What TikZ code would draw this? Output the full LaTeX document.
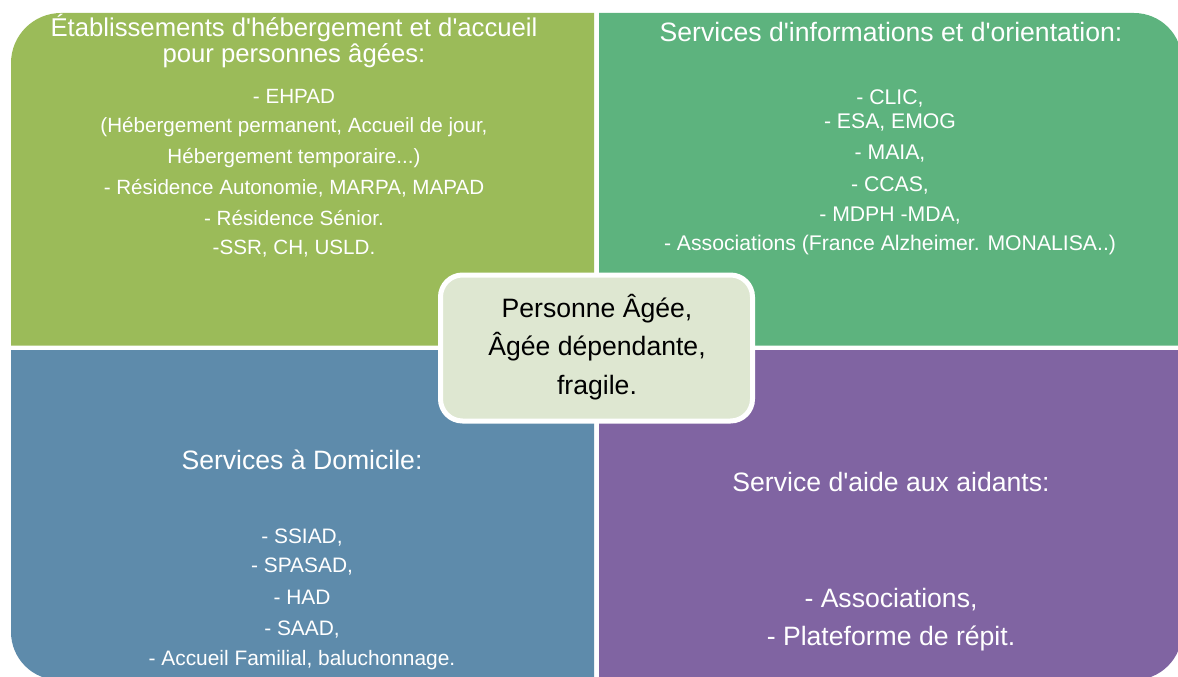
\documentclass[tikz,border=0pt]{standalone}
\usepackage{fontspec}
\setmainfont{Liberation Sans}[Ligatures=TeXOff]
\definecolor{cTL}{HTML}{9BBB59}
\definecolor{cTR}{HTML}{5DB37E}
\definecolor{cBL}{HTML}{5E8BAB}
\definecolor{cBR}{HTML}{8064A2}
\definecolor{cC}{HTML}{DEE7D1}
\newcommand\fsz[1]{\fontsize{#1}{#1}\selectfont}
\begin{document}
\begin{tikzpicture}[x=1pt,y=-1pt,
  ln/.style={anchor=base, text=white, inner sep=0pt},
  ttl/.style={ln, font=\fsz{26.6}},
  bodyA/.style={ln, font=\fsz{20.6}},
  bodyB/.style={ln, font=\fsz{21.2}},
  bodyC/.style={ln, font=\fsz{20.9}},
  bodyD/.style={ln, font=\fsz{26.6}},
  coretext/.style={anchor=base, text=black, inner sep=0pt, font=\fsz{26.6}},
  corebox/.style={draw=white, line width=5pt, fill=cC, rounded corners=22pt,
    minimum width=312pt, minimum height=146pt, inner sep=0pt}]
\useasboundingbox (0,0) rectangle (1178,677);
\clip (0,0) rectangle (1178,677);
% quadrants
\fill[cTL] (11,345.5) [rounded corners=50pt] -- (11,13) [sharp corners] -- (594,13) -- (594,345.5) -- cycle;
\fill[cTR] (599,345.5) -- (599,13) [rounded corners=48pt] -- (1182,13) [sharp corners] -- (1182,345.5) -- cycle;
\fill[cBL] (594,350) -- (11,350) [rounded corners=48pt] -- (11,680) [sharp corners] -- (594,680) -- cycle;
\fill[cBR] (599,350) -- (1182,350) [rounded corners=48pt] -- (1182,680) [sharp corners] -- (599,680) -- cycle;
% top-left
\node[ln, font=\fsz{25.7}] (tl1) at (294,36.7) {Établissements d'hébergement et d'accueil};
\node[ln, font=\fsz{25.7}] (tl2) at (294,62.7) {pour personnes âgées:};
\node[bodyA] (tla) at (294,103) {- EHPAD};
\node[bodyA] (tlb) at (294,132) {(Hébergement permanent, Accueil de jour,};
\node[bodyA] (tlc) at (294,163) {Hébergement temporaire...)};
\node[bodyA] (tld) at (294,194.5) {- Résidence Autonomie, MARPA, MAPAD};
\node[bodyA] (tle) at (294,225) {- Résidence Sénior.};
\node[bodyA] (tlf) at (294,254) {-SSR, CH, USLD.};
% top-right
\node[ttl] (tr1) at (891,41.7) {Services d'informations et d'orientation:};
\node[bodyB] (tra) at (890,104) {- CLIC,};
\node[bodyB] (trb) at (890,128) {- ESA, EMOG};
\node[bodyB] (trc) at (890,159) {- MAIA,};
\node[bodyB] (trd) at (890,191) {- CCAS,};
\node[bodyB] (tre) at (890,221) {- MDPH -MDA,};
\node[bodyB] (trf) at (890,250) {- Associations (France Alzheimer. MONALISA..)};
% bottom-left
\node[ttl] (bl1) at (302,469) {Services à Domicile:};
\node[bodyC] (bla) at (302,543) {- SSIAD,};
\node[bodyC] (blb) at (302,572.5) {- SPASAD,};
\node[bodyC] (blc) at (302,604) {- HAD};
\node[bodyC] (bld) at (302,635) {- SAAD,};
\node[bodyC] (ble) at (302,665) {- Accueil Familial, baluchonnage.};
% bottom-right
\node[ttl] (br1) at (891,491.7) {Service d'aide aux aidants:};
\node[bodyD] (bra) at (891,607) {- Associations,};
\node[bodyD] (brb) at (891,645) {- Plateforme de répit.};
% centre
\node[corebox] (core) at (596.5,348) {};
\node[coretext] (c1) at (597,317) {Personne Âgée,};
\node[coretext] (c2) at (597,355) {Âgée dépendante,};
\node[coretext] (c3) at (597,394) {fragile.};
\end{tikzpicture}
\end{document}
